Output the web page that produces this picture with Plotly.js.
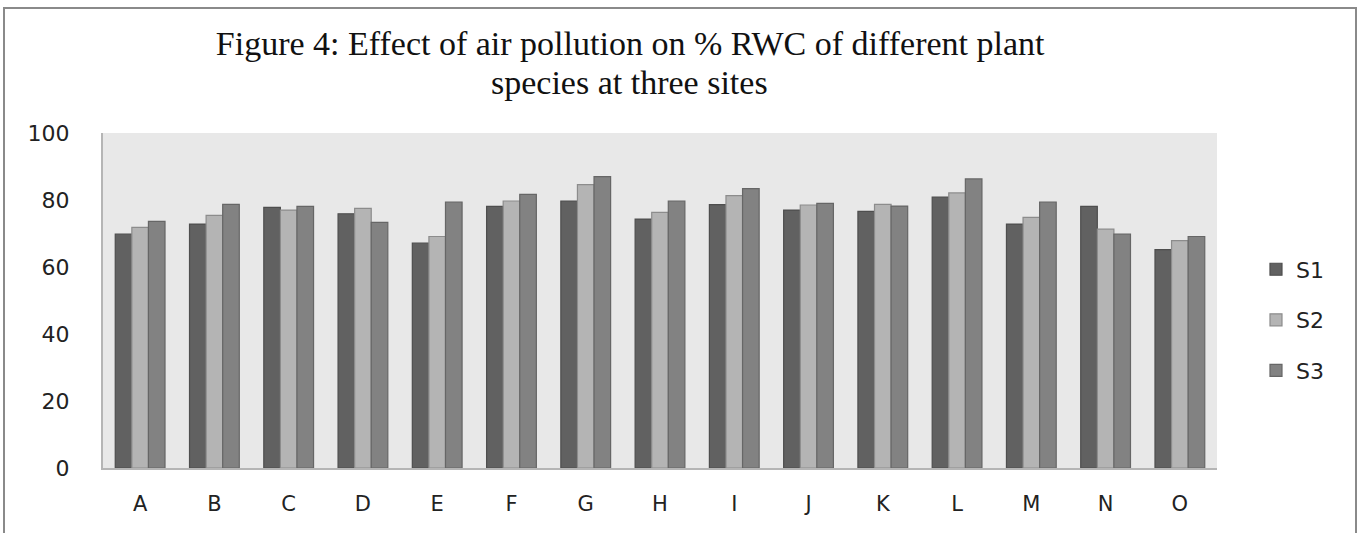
<!DOCTYPE html>
<html>
<head>
<meta charset="utf-8">
<script src="https://cdn.plot.ly/plotly-3.0.1.min.js"></script>
<style>
  html, body { margin: 0; padding: 0; background: #fff; }
  #wrap { position: relative; width: 1364px; height: 533px; }
  #chart { width: 1364px; height: 533px; }
  #frame { position: absolute; left: 3px; top: 7px; width: 1354px; height: 540px;
           border: 2px solid #8a8a8a; border-bottom: none; pointer-events: none; box-sizing: border-box; }
</style>
</head>
<body>
<div id="wrap">
  <div id="chart"></div>
  <div id="frame"></div>
</div>
<script>
const categories = ["A","B","C","D","E","F","G","H","I","J","K","L","M","N","O"];
const seriesNames = ["S1","S2","S3"];
const s1 = [69.8, 72.8, 77.8, 75.9, 67.1, 78.1, 79.7, 74.3, 78.6, 77.0, 76.6, 80.9, 72.8, 78.1, 65.2];
const s2 = [71.8, 75.4, 77.0, 77.5, 69.1, 79.7, 84.6, 76.3, 81.3, 78.5, 78.7, 82.1, 74.8, 71.3, 67.9];
const s3 = [73.6, 78.7, 78.1, 73.3, 79.4, 81.7, 87.0, 79.7, 83.4, 79.0, 78.2, 86.3, 79.4, 69.8, 69.1];
const yTicks = [0, 20, 40, 60, 80, 100];
const titleLine1 = "Figure 4: Effect of air pollution on % RWC of different plant";
const titleLine2 = "species at three sites";

const fills = ["#616161", "#b4b4b4", "#828282"];
const edges = ["#4e4e4e", "#8c8c8c", "#666666"];
const values = [s1, s2, s3];

const traces = seriesNames.map((name, i) => ({
  type: "bar",
  name: name,
  legendgroup: name,
  x: categories,
  y: values[i],
  marker: { color: fills[i], line: { color: edges[i], width: 1.2 } },
  hoverinfo: "x+y+name"
}));

const titleFont = { family: "Liberation Serif, Times New Roman, serif", size: 34, color: "#111" };

const layout = {
  width: 1364,
  height: 533,
  paper_bgcolor: "#ffffff",
  plot_bgcolor: "#e8e8e8",
  margin: { l: 103, r: 147, t: 133, b: 65 },
  barmode: "group",
  bargap: 0.33,
  bargroupgap: 0,
  title: {
    text: titleLine1,
    font: titleFont,
    x: 0.462, xanchor: "center", xref: "container",
    y: 0.92, yanchor: "middle", yref: "container"
  },
  annotations: [{
    text: titleLine2,
    font: titleFont,
    xref: "paper", yref: "paper",
    x: 0.473, y: 1.15,
    xanchor: "center", yanchor: "middle",
    showarrow: false
  }],
  xaxis: {
    type: "category",
    showline: true, linecolor: "#b5b5b5", linewidth: 2,
    ticks: "", showgrid: false,
    tickfont: { family: "DejaVu Sans, sans-serif", size: 21, color: "#222" },
    ticklabelstandoff: 16
  },
  yaxis: {
    range: [0, 100],
    tickvals: yTicks,
    ticktext: yTicks.map(String),
    showline: true, linecolor: "#b5b5b5", linewidth: 2,
    ticks: "", showgrid: false, zeroline: false,
    tickfont: { family: "DejaVu Sans, sans-serif", size: 22, color: "#222" },
    ticklabelstandoff: 27
  },
  legend: {
    x: 1.035, xanchor: "left",
    y: 0.442, yanchor: "middle",
    font: { family: "DejaVu Sans, sans-serif", size: 22, color: "#222" },
    tracegroupgap: 19,
    itemwidth: 30,
    bgcolor: "rgba(0,0,0,0)"
  },
  showlegend: true
};

Plotly.newPlot("chart", traces, layout, { displayModeBar: false, staticPlot: true });
</script>
</body>
</html>
